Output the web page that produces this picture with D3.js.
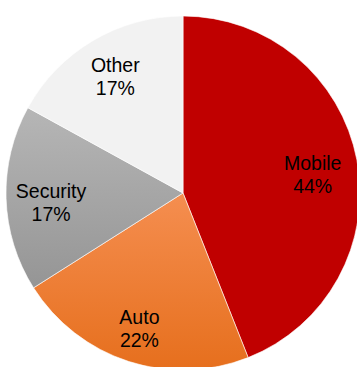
<!DOCTYPE html>
<html><head><meta charset="utf-8">
<script src="https://cdn.jsdelivr.net/npm/d3@7"></script>
<style>html,body{margin:0;padding:0;background:#fff;}svg{display:block;}</style>
</head><body>
<script>
const categories = ["Mobile", "Auto", "Security", "Other"];
const values = [44, 22, 17, 17];
const percentLabels = ["44%", "22%", "17%", "17%"];

const W = 357, H = 367;
const cx = 183, cy = 193, R = 177;
const labelRadii = [132, 141, 132, 133];
const labelNudgeY = [6, 1, 5, -2];

const svg = d3.select("body").append("svg").attr("width", W).attr("height", H);
const defs = svg.append("defs");

function grad(id, c1, c2) {
  const g = defs.append("linearGradient").attr("id", id)
    .attr("x1", 0).attr("y1", 0).attr("x2", 0).attr("y2", 1);
  g.append("stop").attr("offset", "0%").attr("stop-color", c1);
  g.append("stop").attr("offset", "100%").attr("stop-color", c2);
}
grad("gAuto", "#F58E50", "#E66F1D");
grad("gSec", "#B6B6B6", "#959595");

const fills = ["#C00000", "url(#gAuto)", "url(#gSec)", "#F2F2F2"];

const pie = d3.pie().sort(null).value(d => d);
const arcs = pie(values);
const arc = d3.arc().innerRadius(0).outerRadius(R);

const g = svg.append("g").attr("transform", `translate(${cx},${cy})`);
g.selectAll("path").data(arcs).join("path")
  .attr("d", arc)
  .attr("fill", (d, i) => fills[i])
  .attr("stroke", "#fff").attr("stroke-width", 0.6);

const lbl = g.selectAll("text.lbl").data(arcs).join("text")
  .attr("class", "lbl")
  .attr("font-family", "Liberation Sans, Arial, sans-serif")
  .attr("font-size", "19.5px")
  .attr("fill", "#000")
  .attr("text-anchor", "middle")
  .attr("transform", (d, i) => {
    const c = d3.arc().innerRadius(labelRadii[i]).outerRadius(labelRadii[i]).centroid(d);
    return `translate(${c[0]},${c[1] + labelNudgeY[i]})`;
  });
lbl.append("tspan").attr("x", 0).attr("y", -4.5).text((d, i) => categories[i]);
lbl.append("tspan").attr("x", 0).attr("y", 18.5).text((d, i) => percentLabels[i]);
</script>
</body></html>
